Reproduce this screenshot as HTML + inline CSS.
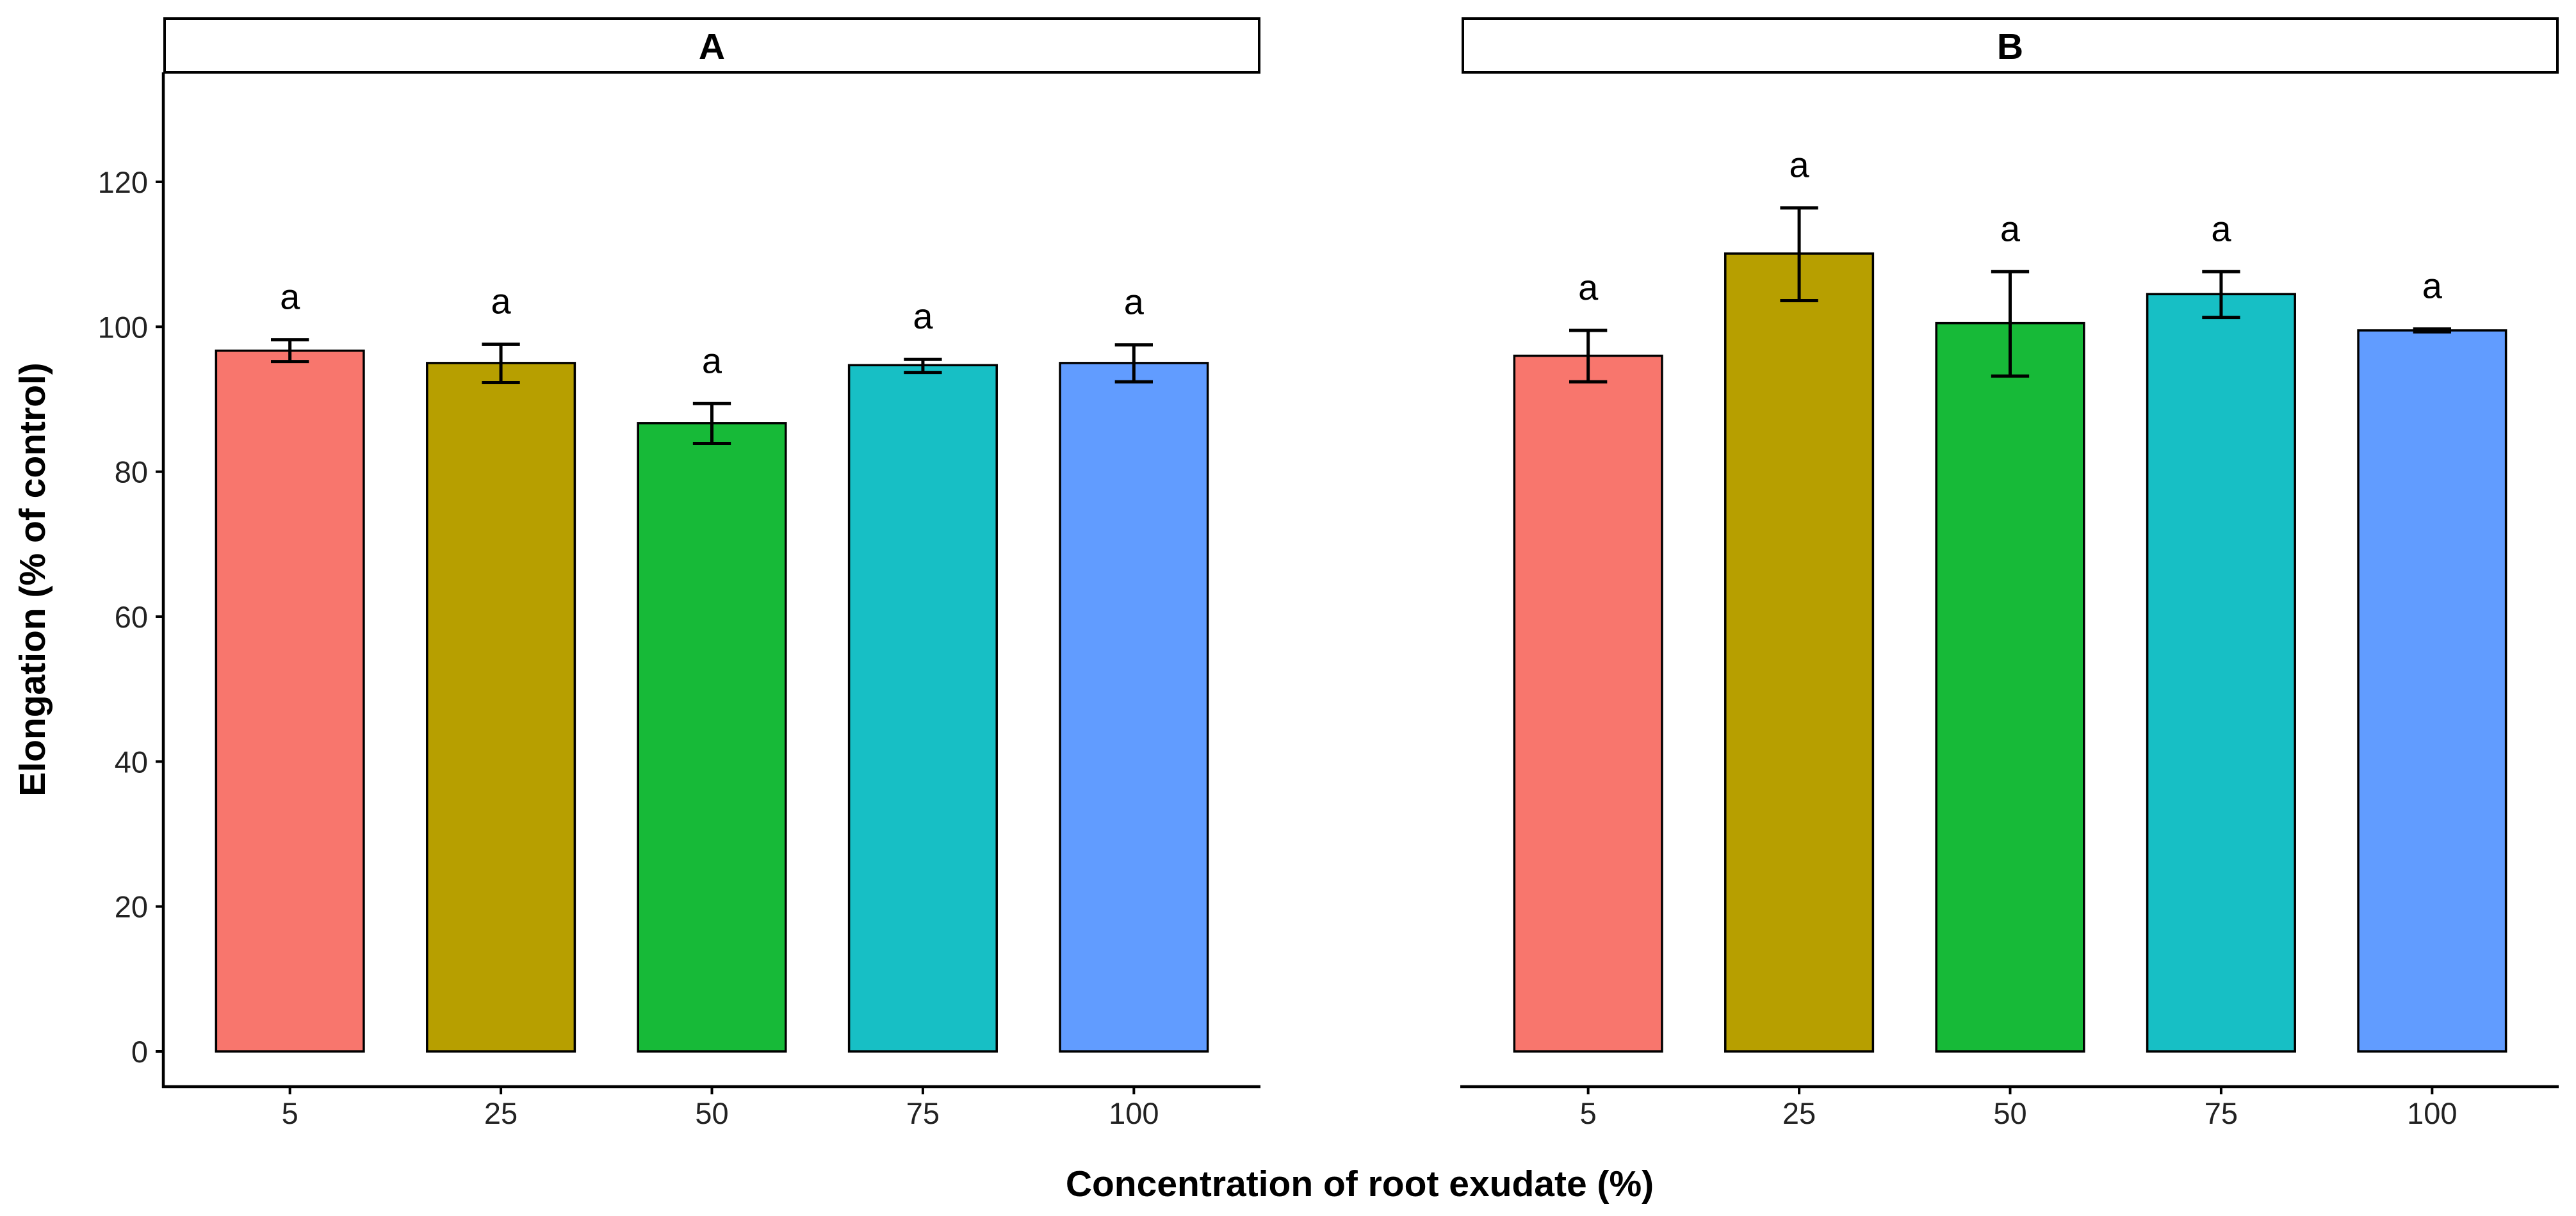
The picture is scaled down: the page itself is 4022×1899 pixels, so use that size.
<!DOCTYPE html>
<html><head><meta charset="utf-8">
<style>
html,body{margin:0;padding:0;background:#fff;}
svg{display:block;font-family:"Liberation Sans",Arial,sans-serif;}
</style></head>
<body>
<svg id="chart" width="4022" height="1899" viewBox="0 0 4022 1899" xmlns="http://www.w3.org/2000/svg">
<rect width="4022" height="1899" fill="#fff"/>
<text transform="translate(70,905) rotate(-90)" text-anchor="middle" font-size="57" font-weight="bold">Elongation (% of control)</text>
<text x="2123" y="1868" text-anchor="middle" font-size="57" font-weight="bold">Concentration of root exudate (%)</text>
<g id="plots"></g>
</svg>
<script>
const categories = ["5","25","50","75","100"];
const colors = ["#F8766D","#B79F00","#17BA38","#17BFC5","#619CFF"];
const panelLabels = ["A","B"];
const valuesA = [96.7,95.0,86.7,94.7,95.0];
const upperA = [98.2,97.6,89.4,95.5,97.5];
const lowerA = [95.2,92.3,83.9,93.7,92.4];
const valuesB = [96.0,110.1,100.5,104.5,99.5];
const upperB = [99.5,116.4,107.6,107.6,99.7];
const lowerB = [92.4,103.6,93.2,101.3,99.3];
const lettersA = ["a","a","a","a","a"];
const lettersB = ["a","a","a","a","a"];
const yTicks = [0,20,40,60,80,100,120];

const NS = "http://www.w3.org/2000/svg";
const root = document.getElementById('plots');
const y0 = 1642, yPer = 11.317, axisTop = 113, axisBottom = 1697;
const plotW = 1713, band = plotW/5.2;
function yScale(v){ return y0 - v*yPer; }
function mk(tag, attrs, parent){
  const e = document.createElementNS(NS, tag);
  for (const k in attrs) e.setAttribute(k, attrs[k]);
  (parent||root).appendChild(e); return e;
}
const panels = [
  {x0:255, vals:valuesA, up:upperA, lo:lowerA, let:lettersA, yaxis:true},
  {x0:2282, vals:valuesB, up:upperB, lo:lowerB, let:lettersB, yaxis:false}
];
panels.forEach((p, pi) => {
  const g = mk('g', {});
  
  
  const xScale = i => p.x0 + (i + 0.6) * band;
  const strip = mk('rect', {x:p.x0+2, y:29, width:plotW-4, height:84, fill:'#fff', stroke:'#000', 'stroke-width':4}, g);
  
  
  const st = mk('text', {x:p.x0+plotW/2, y:92, 'text-anchor':'middle', 'font-size':57, 'font-weight':'bold'}, g);
  st.textContent = panelLabels[pi];
  
  
  p.vals.forEach((v, i) => {
    const cx = xScale(i), w = 0.7*band;
    const b = mk('rect', {x:cx-w/2, y:yScale(v), width:w, height:yScale(0)-yScale(v), fill:colors[i], stroke:'#000', 'stroke-width':3.5}, g);
    
    
    const cw = 0.09*band;
    const eb = mk('path', {d:`M${cx-cw},${yScale(p.up[i])}H${cx+cw}M${cx},${yScale(p.up[i])}V${yScale(p.lo[i])}M${cx-cw},${yScale(p.lo[i])}H${cx+cw}`, stroke:'#000', 'stroke-width':5, fill:'none'}, g);
    
    
    const lt = mk('text', {x:cx, y:yScale(p.up[i])-48, 'text-anchor':'middle', 'font-size':56}, g);
    lt.textContent = p.let[i];
    
    
    const tk = mk('line', {x1:cx, x2:cx, y1:axisBottom, y2:axisBottom+12, stroke:'#000', 'stroke-width':4}, g);
    
    
    const tl = mk('text', {x:cx, y:1755, 'text-anchor':'middle', 'font-size':47, fill:'#222'}, g);
    tl.textContent = categories[i];
    
    
  });
  const xa = mk('line', {x1:p.x0-2, x2:p.x0+plotW, y1:axisBottom, y2:axisBottom, stroke:'#000', 'stroke-width':4.5}, g);
  
  
  if (p.yaxis) {
    const ya = mk('line', {x1:p.x0, x2:p.x0, y1:axisTop, y2:axisBottom+2, stroke:'#000', 'stroke-width':4.5}, g);
    
    
    yTicks.forEach(t => {
      const tk = mk('line', {x1:p.x0-12, x2:p.x0, y1:yScale(t), y2:yScale(t), stroke:'#000', 'stroke-width':4}, g);
      
      
      const tl = mk('text', {x:p.x0-24, y:yScale(t)+17, 'text-anchor':'end', 'font-size':47, fill:'#222'}, g);
      tl.textContent = t;
      
      
    });
  }
});
</script>
</body></html>
